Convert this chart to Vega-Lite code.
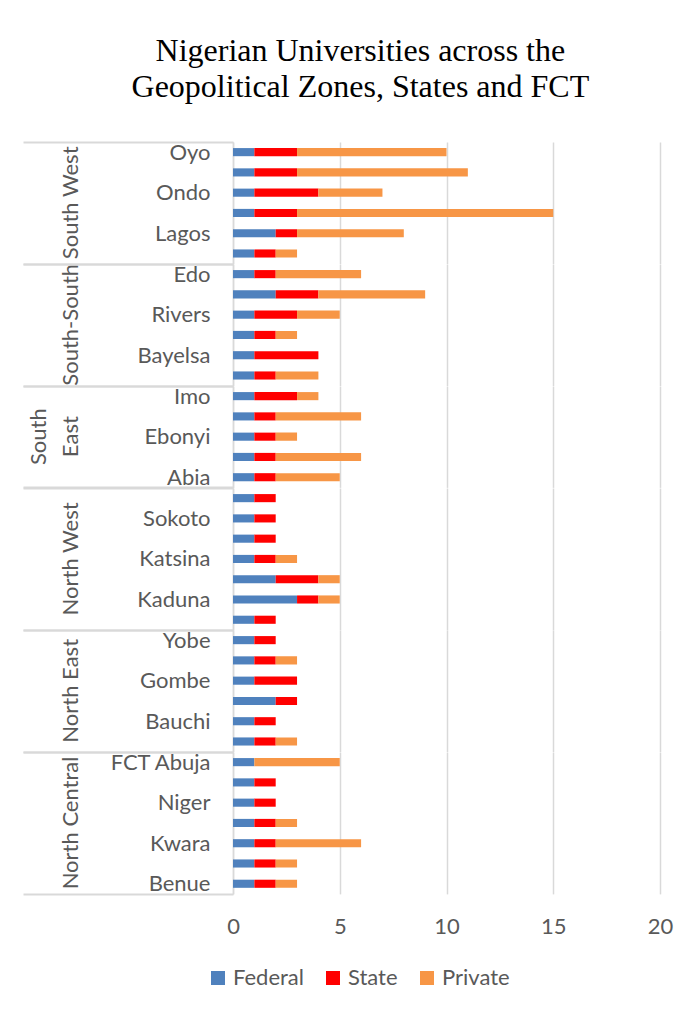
{
  "$schema": "https://vega.github.io/schema/vega-lite/v6.json",
  "padding": {"left": 22, "top": 35, "right": 10, "bottom": 10},
  "bounds": "flush",
  "title": {
    "text": ["Nigerian Universities across the", "Geopolitical Zones, States and FCT"],
    "font": "Liberation Serif",
    "fontSize": 32,
    "fontWeight": "normal",
    "color": "#000000",
    "lineHeight": 36,
    "anchor": "middle",
    "frame": "bounds",
    "dx": 13,
    "offset": 27
  },
  "datasets": {
    "types": [
      {"type": "Federal", "rank": 0},
      {"type": "State", "rank": 1},
      {"type": "Private", "rank": 2}
    ]
  },
  "data": {
    "values": [
      {"zone": "South West", "state": "Oyo", "Federal": 1, "State": 2, "Private": 7},
      {"zone": "South West", "state": "Osun", "Federal": 1, "State": 2, "Private": 8},
      {"zone": "South West", "state": "Ondo", "Federal": 1, "State": 3, "Private": 3},
      {"zone": "South West", "state": "Ogun", "Federal": 1, "State": 2, "Private": 12},
      {"zone": "South West", "state": "Lagos", "Federal": 2, "State": 1, "Private": 5},
      {"zone": "South West", "state": "Ekiti", "Federal": 1, "State": 1, "Private": 1},
      {"zone": "South-South", "state": "Edo", "Federal": 1, "State": 1, "Private": 4},
      {"zone": "South-South", "state": "Delta", "Federal": 2, "State": 2, "Private": 5},
      {"zone": "South-South", "state": "Rivers", "Federal": 1, "State": 2, "Private": 2},
      {"zone": "South-South", "state": "Cross River", "Federal": 1, "State": 1, "Private": 1},
      {"zone": "South-South", "state": "Bayelsa", "Federal": 1, "State": 3, "Private": 0},
      {"zone": "South-South", "state": "Akwa Ibom", "Federal": 1, "State": 1, "Private": 2},
      {"zone": "South East", "state": "Imo", "Federal": 1, "State": 2, "Private": 1},
      {"zone": "South East", "state": "Enugu", "Federal": 1, "State": 1, "Private": 4},
      {"zone": "South East", "state": "Ebonyi", "Federal": 1, "State": 1, "Private": 1},
      {"zone": "South East", "state": "Anambra", "Federal": 1, "State": 1, "Private": 4},
      {"zone": "South East", "state": "Abia", "Federal": 1, "State": 1, "Private": 3},
      {"zone": "North West", "state": "Zamfara", "Federal": 1, "State": 1, "Private": 0},
      {"zone": "North West", "state": "Sokoto", "Federal": 1, "State": 1, "Private": 0},
      {"zone": "North West", "state": "Kebbi", "Federal": 1, "State": 1, "Private": 0},
      {"zone": "North West", "state": "Katsina", "Federal": 1, "State": 1, "Private": 1},
      {"zone": "North West", "state": "Kano", "Federal": 2, "State": 2, "Private": 1},
      {"zone": "North West", "state": "Kaduna", "Federal": 3, "State": 1, "Private": 1},
      {"zone": "North West", "state": "Jigawa", "Federal": 1, "State": 1, "Private": 0},
      {"zone": "North East", "state": "Yobe", "Federal": 1, "State": 1, "Private": 0},
      {"zone": "North East", "state": "Taraba", "Federal": 1, "State": 1, "Private": 1},
      {"zone": "North East", "state": "Gombe", "Federal": 1, "State": 2, "Private": 0},
      {"zone": "North East", "state": "Borno", "Federal": 2, "State": 1, "Private": 0},
      {"zone": "North East", "state": "Bauchi", "Federal": 1, "State": 1, "Private": 0},
      {"zone": "North East", "state": "Adamawa", "Federal": 1, "State": 1, "Private": 1},
      {"zone": "North Central", "state": "FCT Abuja", "Federal": 1, "State": 0, "Private": 4},
      {"zone": "North Central", "state": "Plateau", "Federal": 1, "State": 1, "Private": 0},
      {"zone": "North Central", "state": "Niger", "Federal": 1, "State": 1, "Private": 0},
      {"zone": "North Central", "state": "Nasarawa", "Federal": 1, "State": 1, "Private": 1},
      {"zone": "North Central", "state": "Kwara", "Federal": 1, "State": 1, "Private": 4},
      {"zone": "North Central", "state": "Kogi", "Federal": 1, "State": 1, "Private": 1},
      {"zone": "North Central", "state": "Benue", "Federal": 1, "State": 1, "Private": 1}
    ]
  },
  "transform": [
    {"fold": ["Federal", "State", "Private"], "as": ["type", "count"]},
    {"lookup": "type", "from": {"data": {"name": "types"}, "key": "type", "fields": ["rank"]}}
  ],
  "facet": {
    "row": {
      "field": "zone",
      "type": "nominal",
      "sort": ["South West", "South-South", "South East", "North West", "North East", "North Central"],
      "title": null,
      "header": {
        "labelAngle": -90,
        "labelFont": "Lato",
        "labelFontSize": 22,
        "labelColor": "#595959",
        "labelPadding": 140,
        "labelLineHeight": 32,
        "labelExpr": "datum.value == 'South East' ? ['South', 'East'] : datum.value"
      }
    }
  },
  "spacing": 0,
  "resolve": {"scale": {"y": "independent"}},
  "spec": {
    "width": 427,
    "height": {"step": 20.27},
    "mark": {"type": "bar", "height": {"band": 0.4}},
    "encoding": {
      "y": {
        "field": "state",
        "type": "nominal",
        "sort": null,
        "scale": {"paddingInner": 0, "paddingOuter": 0},
        "axis": {
          "title": null,
          "domainColor": "#d9d9d9",
          "domainWidth": 1.5,
          "tickBand": "extent",
          "tickExtra": true,
          "tickSize": 210,
          "tickWidth": 2,
          "tickColor": "#d9d9d9",
          "tickOpacity": {"condition": {"test": "datum.index < 0 || datum.index >= 1", "value": 1}, "value": 0},
          "labelPadding": -187,
          "labelFont": "Lato",
          "labelFontSize": 22,
          "labelColor": "#595959",
          "labelExpr": "datum.value == 'Oyo' || datum.value == 'Ondo' || datum.value == 'Lagos' || datum.value == 'Edo' || datum.value == 'Rivers' || datum.value == 'Bayelsa' || datum.value == 'Imo' || datum.value == 'Ebonyi' || datum.value == 'Abia' || datum.value == 'Sokoto' || datum.value == 'Katsina' || datum.value == 'Kaduna' || datum.value == 'Yobe' || datum.value == 'Gombe' || datum.value == 'Bauchi' || datum.value == 'FCT Abuja' || datum.value == 'Niger' || datum.value == 'Kwara' || datum.value == 'Benue' ? datum.label : ''"
        }
      },
      "x": {
        "field": "count",
        "type": "quantitative",
        "scale": {"domain": [0, 20]},
        "axis": {
          "title": null,
          "values": [0, 5, 10, 15, 20],
          "domain": false,
          "ticks": false,
          "labelFlush": false,
          "gridColor": "#d9d9d9",
          "gridWidth": 1.5,
          "labelPadding": 22,
          "labelFont": "Lato",
          "labelFontSize": 22,
          "labelColor": "#595959"
        }
      },
      "order": {"field": "rank", "type": "quantitative"},
      "color": {
        "field": "type",
        "type": "nominal",
        "sort": ["Federal", "State", "Private"],
        "scale": {"domain": ["Federal", "State", "Private"], "range": ["#4f81bd", "#ff0000", "#f79646"]},
        "legend": {
          "title": null,
          "orient": "none",
          "legendX": -26,
          "legendY": 825,
          "direction": "horizontal",
          "symbolType": "square",
          "symbolSize": 196,
          "symbolStrokeWidth": 0,
          "labelFont": "Lato",
          "labelFontSize": 22,
          "labelColor": "#595959",
          "labelOffset": 4,
          "columnPadding": 18
        }
      }
    }
  },
  "config": {
    "view": {"stroke": null},
    "background": "#ffffff"
  }
}
